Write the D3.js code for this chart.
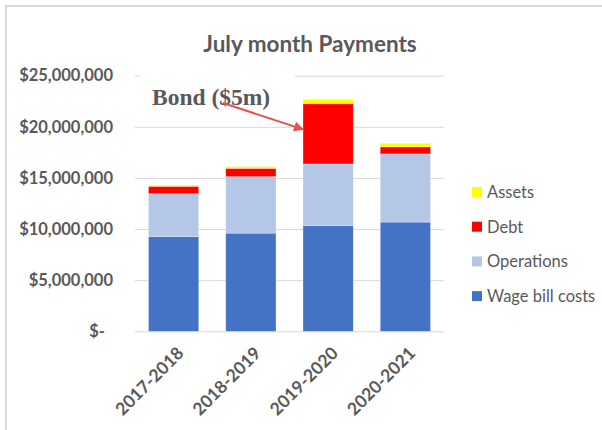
<!DOCTYPE html>
<html>
<head>
<meta charset="utf-8">
<script src="https://cdn.jsdelivr.net/npm/d3@7"></script>
<style>
  body { margin: 0; background: #fff; }
  text { font-family: Lato, "Open Sans", sans-serif; fill: #595959; }
</style>
</head>
<body>
<div class="canvas"></div>
<script>
const dims = { width: 602, height: 430 };

// data
const years = ['2017-2018', '2018-2019', '2019-2020', '2020-2021'];
const seriesNames = ['Wage bill costs', 'Operations', 'Debt', 'Assets'];
const wage = [9250000, 9600000, 10320000, 10680000];
const operations = [4210000, 5530000, 6050000, 6670000];
const debt = [720000, 810000, 5880000, 690000];
const assets = [130000, 170000, 430000, 350000];
const yTicks = [0, 5000000, 10000000, 15000000, 20000000, 25000000];
const colors = ['#4472C4', '#B4C7E7', '#FF0000', '#FFFF00'];

const rows = years.map((y, i) => ({
  year: y,
  'Wage bill costs': wage[i],
  'Operations': operations[i],
  'Debt': debt[i],
  'Assets': assets[i]
}));

const svg = d3.select('.canvas')
  .append('svg')
    .attr('width', dims.width)
    .attr('height', dims.height);

// chart border (only top and left show in the crop)
svg.append('path')
  .attr('d', `M6,${dims.height} V6 H${dims.width}`)
  .attr('fill', 'none')
  .attr('stroke', '#d9d9d9')
  .attr('stroke-width', 2);

// scales
const x = d3.scaleBand()
  .domain(years)
  .range([135, 444])
  .paddingInner(0.35)
  .paddingOuter(0.175);

const y = d3.scaleLinear()
  .domain([0, 25000000])
  .range([331.3, 75.7]);

const color = d3.scaleOrdinal()
  .domain(seriesNames)
  .range(colors);

// title
svg.append('text')
  .attr('x', 310)
  .attr('y', 52)
  .attr('text-anchor', 'middle')
  .style('font-size', '22.5px')
  .style('font-weight', 'bold')
  .text('July month Payments');

// gridlines + y labels
const yAxis = d3.axisLeft(y)
  .tickValues(yTicks)
  .tickSize(-(444 - 135))
  .tickPadding(22)
  .tickFormat(d => d === 0 ? '$-' : '$' + d3.format(',')(d));

const yG = svg.append('g')
  .attr('transform', 'translate(135,0)')
  .call(yAxis);

yG.select('.domain').remove();
yG.selectAll('.tick line').attr('stroke', '#d9d9d9');
yG.selectAll('.tick text')
  .style('font-size', '16.5px')
  .style('font-weight', 'bold')
  .attr('fill', '#595959')
  .attr('dx', d => d === 0 ? -8 : 0);

// stacked bars
const stack = d3.stack().keys(seriesNames);
const layers = stack(rows);

svg.append('g')
  .selectAll('g')
  .data(layers)
  .join('g')
    .attr('fill', d => color(d.key))
  .selectAll('rect')
  .data(d => d)
  .join('rect')
    .attr('x', d => x(d.data.year))
    .attr('width', x.bandwidth())
    .attr('y', d => y(d[1]))
    .attr('height', d => y(d[0]) - y(d[1]))
    .attr('stroke', '#fff')
    .attr('stroke-opacity', 0.4)
    .attr('stroke-width', 0.6);

// x labels
const xAxis = d3.axisBottom(x).tickSize(0);
const xG = svg.append('g')
  .attr('transform', 'translate(0,331.3)')
  .call(xAxis);
xG.select('.domain').remove();
xG.selectAll('.tick text')
  .style('font-size', '17.5px')
  .style('font-weight', 'bold')
  .attr('fill', '#595959')
  .attr('text-anchor', 'end')
  .attr('dy', 0)
  .attr('transform', 'translate(9,21) rotate(-45)');

// legend
const legend = svg.append('g')
  .attr('transform', 'translate(472,192)');

const legendItems = legend.selectAll('g')
  .data(seriesNames.slice().reverse())
  .join('g')
    .attr('transform', (d, i) => `translate(0, ${i * 34.7})`);

legendItems.append('rect')
  .attr('x', 0).attr('y', -5)
  .attr('width', 10).attr('height', 10)
  .attr('fill', d => color(d));

legendItems.append('text')
  .attr('x', 15)
  .attr('y', 0)
  .attr('dominant-baseline', 'central')
  .style('font-size', '16.5px')
  .text(d => d);

// annotation: Bond ($5m)
svg.append('defs').append('marker')
  .attr('id', 'arrow')
  .attr('viewBox', '0 0 10 10')
  .attr('refX', 9).attr('refY', 5)
  .attr('markerWidth', 5).attr('markerHeight', 5)
  .attr('orient', 'auto')
  .append('path')
    .attr('d', 'M0,0 L10,5 L0,10 z')
    .attr('fill', '#E8504E');

svg.append('rect')
  .attr('x', 140).attr('y', 70)
  .attr('width', 155).attr('height', 44)
  .attr('fill', '#fff');

svg.append('text')
  .attr('x', 152)
  .attr('y', 105)
  .style('font-family', '"Liberation Serif", "DejaVu Serif", serif')
  .style('font-size', '23.5px')
  .style('font-weight', 'bold')
  .attr('fill', '#57534a')
  .text('Bond ($5m)');

svg.append('line')
  .attr('x1', 223).attr('y1', 103)
  .attr('x2', x('2019-2020')).attr('y2', y(19750000))
  .attr('stroke', '#E8504E')
  .attr('stroke-width', 2)
  .attr('marker-end', 'url(#arrow)');
</script>
</body>
</html>
